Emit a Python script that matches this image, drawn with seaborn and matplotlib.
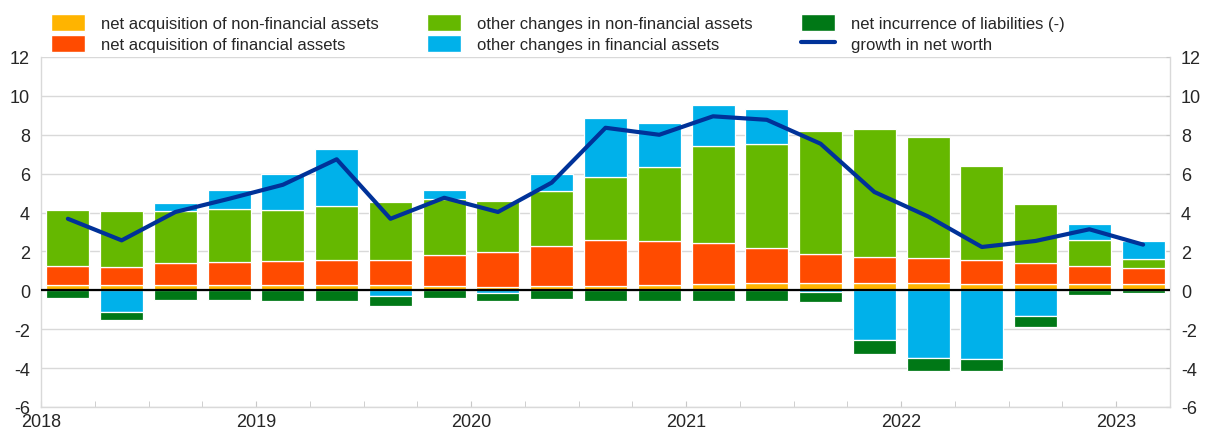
import numpy as np
import pandas as pd
import seaborn as sns
import matplotlib.pyplot as plt
from matplotlib.patches import Patch
from matplotlib.lines import Line2D
from matplotlib.ticker import FixedLocator

sns.set_style('white')
plt.rcParams['font.family'] = ['Liberation Sans', 'DejaVu Sans']

# quarterly data, 2018 Q1 - 2023 Q1 (percentage points)
quarters = ['2018Q1', '2018Q2', '2018Q3', '2018Q4',
            '2019Q1', '2019Q2', '2019Q3', '2019Q4',
            '2020Q1', '2020Q2', '2020Q3', '2020Q4',
            '2021Q1', '2021Q2', '2021Q3', '2021Q4',
            '2022Q1', '2022Q2', '2022Q3', '2022Q4',
            '2023Q1']
year_labels = ['2018', '2019', '2020', '2021', '2022', '2023']

acq_nonfin = [0.26, 0.26, 0.26, 0.26, 0.26, 0.26, 0.26, 0.22, 0.19, 0.22, 0.22,
              0.26, 0.33, 0.38, 0.38, 0.38, 0.38, 0.34, 0.34, 0.34, 0.33]
acq_fin = [0.99, 0.94, 1.15, 1.18, 1.25, 1.30, 1.32, 1.60, 1.78, 2.04, 2.38,
           2.26, 2.09, 1.80, 1.49, 1.33, 1.28, 1.22, 1.07, 0.91, 0.82]
oth_nonfin = [2.86, 2.88, 2.65, 2.74, 2.60, 2.79, 2.94, 2.86, 2.64, 2.85, 3.21,
              3.84, 5.00, 5.33, 6.30, 6.60, 6.21, 4.85, 3.01, 1.35, 0.44]
oth_fin = [0.0, -1.11, 0.45, 0.96, 1.85, 2.90, -0.29, 0.46, -0.12, 0.85, 3.07,
           2.24, 2.09, 1.80, -0.10, -2.57, -3.48, -3.55, -1.34, 0.79, 0.93]
liabilities = [-0.38, -0.43, -0.48, -0.48, -0.55, -0.55, -0.52, -0.38, -0.43, -0.43, -0.55,
               -0.55, -0.55, -0.55, -0.50, -0.69, -0.68, -0.62, -0.55, -0.26, -0.15]
net_worth = [3.68, 2.57, 4.03, 4.71, 5.43, 6.74, 3.68, 4.76, 4.03, 5.54, 8.36,
             8.00, 8.95, 8.77, 7.54, 5.06, 3.80, 2.23, 2.54, 3.14, 2.35]

c_yellow = '#FFB400'
c_orange = '#FF4B00'
c_green = '#65B800'
c_blue = '#00B1EA'
c_dgreen = '#007816'
c_line = '#003299'

df = pd.DataFrame({'quarter': quarters, 'acq_nonfin': acq_nonfin, 'acq_fin': acq_fin,
                   'oth_nonfin': oth_nonfin, 'oth_fin': oth_fin,
                   'liab': liabilities, 'nw': net_worth})
df['oth_fin_pos'] = df['oth_fin'].clip(lower=0)
df['oth_fin_neg'] = df['oth_fin'].clip(upper=0)
df['pos'] = np.arange(len(df))

fig = plt.figure(figsize=(12.09, 4.31), dpi=100)
ax = fig.add_axes([41 / 1209, 1 - 408 / 431, (1170 - 41) / 1209, (408 - 58) / 431])


def stack(columns, ax):
    bottom = np.zeros(len(df))
    for col, color in columns:
        vals = df[col].values
        keep = vals != 0
        sub = df[keep]
        sns.barplot(data=sub, x='quarter', y=col, order=quarters, color=color,
                    saturation=1, bottom=bottom[keep], width=0.8, edgecolor='white',
                    linewidth=0.9, ax=ax, zorder=3)
        bottom = bottom + vals


# stacked bars: positives upward, negatives downward
stack([('acq_nonfin', c_yellow), ('acq_fin', c_orange),
       ('oth_nonfin', c_green), ('oth_fin_pos', c_blue)], ax)
stack([('oth_fin_neg', c_blue), ('liab', c_dgreen)], ax)

sns.lineplot(data=df, x='pos', y='nw', color=c_line, linewidth=3, ax=ax, zorder=5)

ax.axhline(0, color='black', linewidth=1.6, zorder=4)
ax.set_ylim(-6, 12)
ax.set_xlim(-0.5, len(df) - 0.5)
ax.grid(axis='y', color='#d9d9d9', linewidth=1, zorder=0)
ax.set_axisbelow(True)
ax.set_xlabel('')
ax.set_ylabel('')

year_pos = np.arange(-0.5, len(df), 4)
ax.xaxis.set_major_locator(FixedLocator(year_pos))
ax.set_xticklabels(year_labels)
ax.xaxis.set_minor_locator(FixedLocator(np.arange(-0.5, len(df), 1)))
ax.tick_params(axis='x', which='both', direction='in', length=4, color='#c8c8c8',
               labelsize=13, pad=4, bottom=True)

ax.set_yticks(np.arange(-6, 13, 2))
ax.set_yticklabels([str(v) for v in range(-6, 13, 2)])
ax.tick_params(axis='y', labelsize=13, left=False, right=True, direction='in',
               length=3, color='#c8c8c8', labelleft=True, labelright=True, pad=8)

for side in ['left', 'right', 'bottom']:
    ax.spines[side].set_color('#d9d9d9')
    ax.spines[side].set_linewidth(1)
ax.spines['top'].set_visible(False)

handles = [Patch(facecolor=c_yellow, label='net acquisition of non-financial assets'),
           Patch(facecolor=c_orange, label='net acquisition of financial assets'),
           Patch(facecolor=c_green, label='other changes in non-financial assets'),
           Patch(facecolor=c_blue, label='other changes in financial assets'),
           Patch(facecolor=c_dgreen, label='net incurrence of liabilities (-)'),
           Line2D([], [], color=c_line, linewidth=3, label='growth in net worth')]
fig.legend(handles=handles, loc='upper left', bbox_to_anchor=(51 / 1209, 1 - 15 / 431),
           ncol=3, frameon=False, fontsize=12, handlelength=2.05, handleheight=1.2,
           handletextpad=0.95, columnspacing=2.9, labelspacing=0.2, borderpad=0,
           borderaxespad=0)

plt.savefig('out.png', dpi=100)
